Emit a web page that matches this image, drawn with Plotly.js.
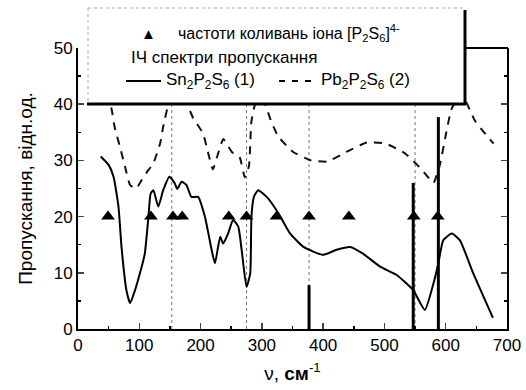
<!DOCTYPE html>
<html><head><meta charset="utf-8">
<script src="https://cdn.plot.ly/plotly-3.0.1.min.js"></script>
<style>html,body{margin:0;padding:0;background:#fff;}#chart{width:526px;height:390px;}</style>
</head><body><div id="chart"></div>
<script>
// Sn2P2S6 (1) IR transmission
const snX = [37, 50, 58, 66, 71, 79, 85, 93, 104, 109, 115, 118.5, 123, 131, 139, 149, 158, 162, 169, 177, 185, 196, 207, 218, 223.5, 232, 237, 245, 253, 261.5, 267, 275, 281, 283, 287, 294, 308, 327, 346, 368, 400, 422, 444, 465, 493, 520, 547, 566, 580, 588, 596, 610, 623, 645, 677];
const snY = [30.7, 29.2, 27.1, 21.8, 14.6, 6.9, 4.6, 6.9, 11.1, 13.4, 20, 24.1, 24.7, 21.8, 24.7, 27.1, 25.9, 24.9, 26.2, 25.6, 23.5, 23.5, 20, 14.1, 11.7, 16.4, 15.2, 17, 19.4, 18.2, 14.1, 7.5, 9.9, 20, 23.5, 24.7, 23.5, 20.6, 17, 14.6, 13.2, 14.1, 14.6, 13.4, 11.1, 9.6, 6.9, 3.4, 8.1, 11.7, 15.8, 17, 15.8, 9.9, 2];
// Pb2P2S6 (2) IR transmission
const pbX = [48, 55, 60, 68.5, 76.7, 85, 95, 104, 113, 123, 134, 139, 150, 162, 178, 188, 204, 212, 220, 228, 237, 251, 264, 272, 279, 283, 292, 305, 315, 327, 351, 380, 407, 438, 471, 502, 533, 560, 580, 590, 601, 609, 625, 648, 678];
const pbY = [42, 39, 35.8, 32.4, 28.9, 25.6, 25, 26.5, 28, 29.5, 33, 36, 41, 43, 40, 37.5, 34.8, 31.5, 28.4, 31, 33.8, 31.5, 30.5, 27, 29, 37, 41, 40, 37, 34.2, 31.5, 30, 29.8, 31.5, 33.2, 33, 31.3, 28.5, 26, 29, 35, 39, 42, 37, 33];
// [P2S6]4- ion vibration frequencies
const triX = [49, 119, 155, 170, 246, 275, 324, 377, 442, 548, 587];
const triY = [20, 20, 20, 20, 20, 20, 20, 20, 20, 20, 20];
// sharp lines
const spikeX = [377, 547, 588];
const spikeH = [7.8, 26, 37.7];
// dotted reference lines
const refX = [153, 275, 377, 550];
// axis ticks
const xTicks = [0, 100, 200, 300, 400, 500, 600, 700];
const yTicks = [0, 10, 20, 30, 40, 50];

const FONT = "Liberation Sans, Arial, sans-serif";
const traces = [];
spikeX.forEach((x, i) => traces.push({x: [x, x], y: [0, spikeH[i]], mode: 'lines', line: {color: '#000', width: 3}, hoverinfo: 'skip', showlegend: false}));
traces.push({x: pbX, y: pbY, mode: 'lines', line: {color: '#111', width: 2, dash: '8px,7px', shape: 'spline', smoothing: 0.4}, showlegend: false});
traces.push({x: snX, y: snY, mode: 'lines', line: {color: '#000', width: 2, shape: 'spline', smoothing: 0.5}, showlegend: false});
traces.push({x: triX, y: triY, mode: 'markers', marker: {symbol: 'triangle-up', size: 12, color: '#000'}, showlegend: false});

const shapes = refX.map(x => ({type: 'line', xref: 'x', yref: 'paper', x0: x, x1: x, y0: 0, y1: 1, layer: 'below', line: {color: '#777', width: 1, dash: 'dot'}}));
// legend box (pixel -> paper): plot x 78..507, y 48..329
const px = v => (v - 78) / 429, py = v => (329 - v) / 281;
// top frame segment visible right of the legend box
shapes.push({type: 'line', xref: 'paper', yref: 'paper', x0: px(465), x1: px(508), y0: 1, y1: 1, line: {color: '#000', width: 2}, layer: 'above'});
shapes.push({type: 'rect', xref: 'paper', yref: 'paper', x0: px(88), x1: px(465), y0: py(104), y1: py(8), fillcolor: '#fff', line: {width: 0}, layer: 'above'});
shapes.push({type: 'line', xref: 'paper', yref: 'paper', x0: px(88), x1: px(465), y0: py(8), y1: py(8), line: {color: '#aaa', width: 1, dash: 'dot'}, layer: 'above'});
shapes.push({type: 'line', xref: 'paper', yref: 'paper', x0: px(88), x1: px(88), y0: py(8), y1: py(104), line: {color: '#aaa', width: 1, dash: 'dot'}, layer: 'above'});
shapes.push({type: 'line', xref: 'paper', yref: 'paper', x0: px(87), x1: px(466), y0: py(104), y1: py(104), line: {color: '#000', width: 3}, layer: 'above'});
shapes.push({type: 'line', xref: 'paper', yref: 'paper', x0: px(465), x1: px(465), y0: py(10), y1: py(105), line: {color: '#000', width: 3}, layer: 'above'});
shapes.push({type: 'line', xref: 'paper', yref: 'paper', x0: px(126), x1: px(161), y0: py(81), y1: py(81), line: {color: '#000', width: 2}, layer: 'above'});
shapes.push({type: 'line', xref: 'paper', yref: 'paper', x0: px(279), x1: px(316), y0: py(81), y1: py(81), line: {color: '#000', width: 2, dash: '6px,7px'}, layer: 'above'});

const ann = (x, y, text, size) => ({xref: 'paper', yref: 'paper', x: px(x), y: py(y), xanchor: 'left', yanchor: 'middle', text: text, showarrow: false, font: {family: FONT, size: size || 17, color: '#000'}});
const annotations = [
  ann(139, 33, '▲', 15),
  ann(176, 33, 'частоти коливань іона [P<sub>2</sub>S<sub>6</sub>]<sup>4-</sup>', 16),
  ann(129, 57, 'ІЧ спектри пропускання'),
  ann(164, 81, 'Sn<sub>2</sub>P<sub>2</sub>S<sub>6</sub> (1)'),
  ann(319, 81, 'Pb<sub>2</sub>P<sub>2</sub>S<sub>6</sub> (2)')
];

const layout = {
  width: 526, height: 390,
  margin: {l: 78, r: 19, t: 48, b: 61},
  paper_bgcolor: '#fff', plot_bgcolor: '#fff',
  font: {family: FONT, size: 17, color: '#000'},
  xaxis: {range: [0, 700], tickvals: xTicks, ticks: 'inside', ticklen: 6, tickwidth: 1.5, mirror: false, showline: true, linewidth: 2, linecolor: '#000', showgrid: false, zeroline: false,
    minor: {dtick: 50, ticks: 'inside', ticklen: 3, tickcolor: '#000'},
    tickfont: {size: 17}, title: {text: 'ν, <b>см</b><sup>-1</sup>', font: {size: 19}, standoff: 12}},
  yaxis: {range: [0, 50], tickvals: yTicks, ticks: 'inside', ticklen: 6, tickwidth: 1.5, mirror: 'allticks', showline: true, linewidth: 2, linecolor: '#000', showgrid: false, zeroline: false,
    minor: {dtick: 5, ticks: 'inside', ticklen: 3, tickcolor: '#000'},
    tickfont: {size: 17}, title: {text: 'Пропускання, відн.од.', font: {size: 19}, standoff: 16}},
  shapes: shapes,
  annotations: annotations,
  showlegend: false
};
Plotly.newPlot('chart', traces, layout, {displayModeBar: false, staticPlot: true});
</script></body></html>
